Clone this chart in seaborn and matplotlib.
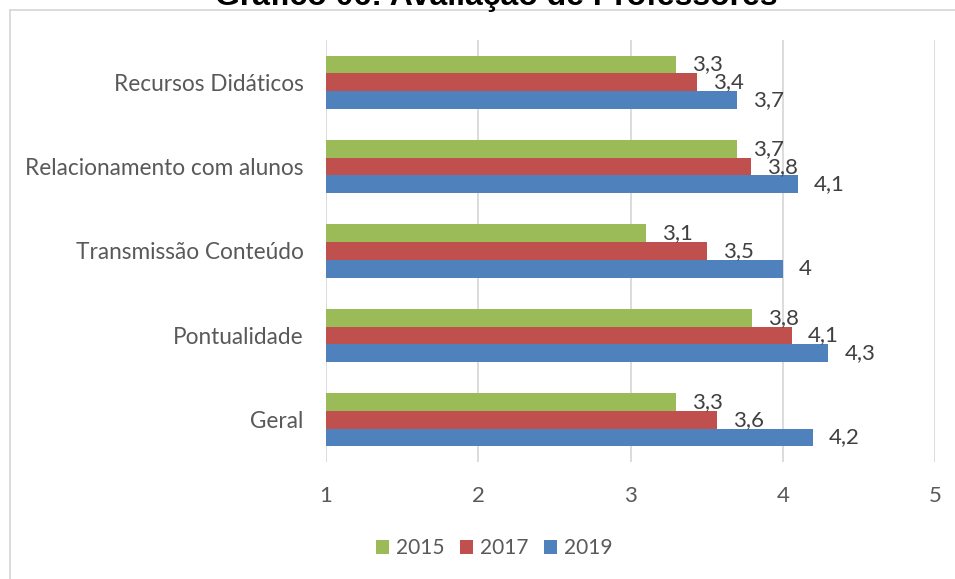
import matplotlib
matplotlib.use("Agg")
import matplotlib.pyplot as plt
from matplotlib.patches import Patch
from matplotlib.lines import Line2D
import seaborn as sns
import pandas as pd

categories = ["Recursos Didáticos", "Relacionamento com alunos", "Transmissão Conteúdo",
              "Pontualidade", "Geral"]
years = ["2015", "2017", "2019"]
v2015 = [3.3, 3.7, 3.1, 3.8, 3.3]
v2017 = [3.44, 3.79, 3.50, 4.06, 3.57]
v2019 = [3.7, 4.1, 4.0, 4.3, 4.2]
xticks = [1, 2, 3, 4, 5]
title = "Gráfico 06: Avaliação de Professores"
colors = ["#9BBB59", "#C0504D", "#4F81BD"]

rows = []
for y, vals in zip(years, [v2015, v2017, v2019]):
    for c, v in zip(categories, vals):
        rows.append({"Categoria": c, "Ano": y, "Valor": v})
df = pd.DataFrame(rows)

sns.set_style("white")
plt.rcParams['font.family'] = ['Lato', 'DejaVu Sans']

W, H = 955, 579
fig = plt.figure(figsize=(W / 100, H / 100), dpi=100)
ax = fig.add_axes([326 / W, 1 - 462 / H, (935 - 326) / W, (462 - 40) / H])

sns.barplot(data=df, y="Categoria", x="Valor", hue="Ano", order=categories,
            hue_order=years, palette=colors, orient="h", width=0.63, ax=ax,
            legend=False, saturation=1, edgecolor="none", linewidth=0)

ax.set_xlim(1, 5)
ax.set_xticks(xticks)
ax.set_xticklabels([str(t) for t in xticks])
ax.set_xlabel("")
ax.set_ylabel("")
for s in ax.spines.values():
    s.set_visible(False)
ax.grid(axis="x", color="#D9D9D9", linewidth=1.3)
ax.grid(axis="y", visible=False)
ax.set_axisbelow(True)
ax.tick_params(axis="x", length=5, width=1.3, color="#D9D9D9", direction="out",
               pad=12, labelsize=16, labelcolor="#595959")
ax.tick_params(axis="y", length=0, pad=16, labelsize=16.3, labelcolor="#595959")
ax.set_ylim(len(categories) - 0.5, -0.5)

def fmt(v):
    s = f"{v:.1f}".replace(".", ",")
    if s.endswith(",0"):
        s = s[:-2]
    return s

for cont, vals in zip(ax.containers, [v2015, v2017, v2019]):
    ax.bar_label(cont, labels=[fmt(v) for v in vals], padding=11.5,
                 fontsize=16, color="#404040")

# chart border
fig.add_artist(Line2D([10 / W, 10 / W], [0, 1 - 10 / H], transform=fig.transFigure,
                      color="#D9D9D9", linewidth=1.3))
fig.add_artist(Line2D([10 / W, 1], [1 - 10 / H, 1 - 10 / H], transform=fig.transFigure,
                      color="#D9D9D9", linewidth=1.3))

fig.text(496 / W, 1 - 5 / H, title, ha="center", va="baseline", fontsize=23,
         fontweight="bold", family=["Liberation Sans", "DejaVu Sans"], color="black")

handles = [Patch(facecolor=c, edgecolor="none", label=y) for c, y in zip(colors, years)]
fig.legend(handles=handles, loc="center", bbox_to_anchor=(494 / W, 1 - 548 / H),
           ncol=3, frameon=False, fontsize=15, labelcolor="#595959",
           handlelength=0.65, handleheight=0.65, handletextpad=0.3, columnspacing=0.75)

fig.savefig("out.png", dpi=100)
